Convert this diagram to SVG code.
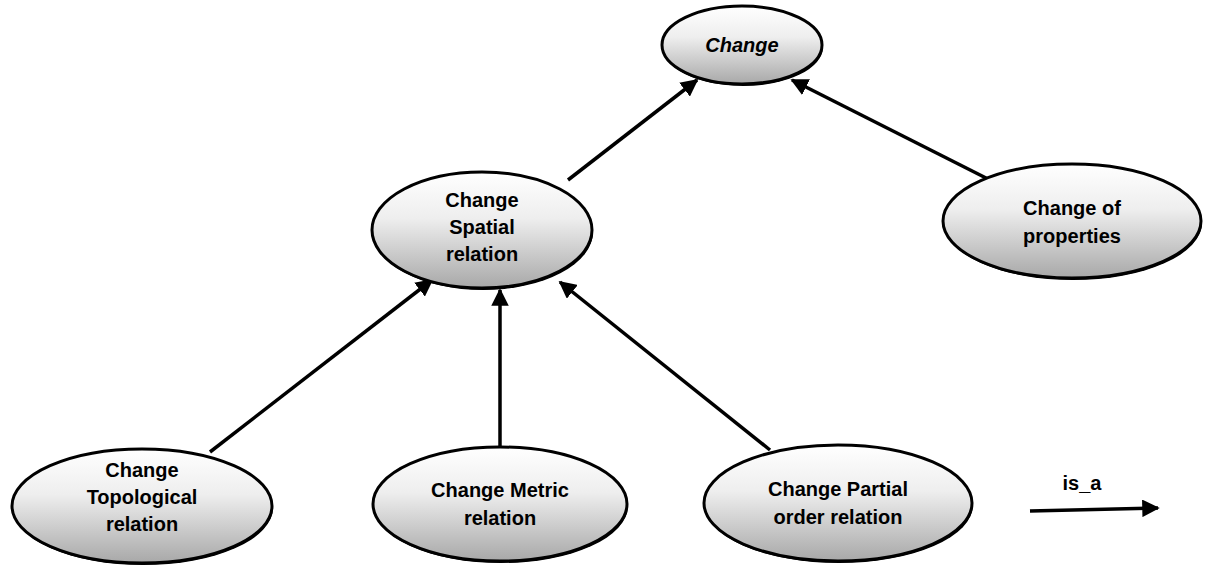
<svg xmlns="http://www.w3.org/2000/svg" width="1206" height="568" viewBox="0 0 1206 568">
<style>
.node ellipse{fill:url(#g);stroke:#000;stroke-width:3}
.node .sh{fill:#000;stroke:none}
text{font-family:"Liberation Sans",Arial,sans-serif;font-weight:bold;font-size:20px;fill:#000;text-anchor:middle}
.conn line{stroke:#000;stroke-width:3.5;marker-end:url(#ah)}
</style>
<defs>
<linearGradient id="g" x1="0" y1="0" x2="0" y2="1">
<stop offset="0" stop-color="#ffffff"/>
<stop offset="0.4" stop-color="#eeeeee"/>
<stop offset="1" stop-color="#a8a8a8"/>
</linearGradient>
<marker id="ah" viewBox="0 0 10 10" refX="9" refY="5" markerWidth="5" markerHeight="5" orient="auto" markerUnits="strokeWidth">
<path d="M0,0 L10,5 L0,10 z" fill="#000"/>
</marker>
</defs>
<rect width="1206" height="568" fill="#fff"/>
<g class="conn">
<line x1="568" y1="180" x2="697" y2="80"/>
<line x1="990" y1="180" x2="792" y2="80"/>
<line x1="210" y1="452" x2="432" y2="280"/>
<line x1="500" y1="446" x2="500" y2="290"/>
<line x1="770" y1="450" x2="560" y2="282"/>
<line x1="1030" y1="511" x2="1158" y2="508"/>
</g>
<g id="change" class="node"><ellipse class="sh" cx="743" cy="47" rx="80" ry="39"/><ellipse cx="742" cy="45" rx="80" ry="39"/><text x="742" y="52" font-style="italic">Change</text></g>
<g id="spatial" class="node"><ellipse class="sh" cx="483" cy="232" rx="110" ry="58"/><ellipse cx="482" cy="230" rx="110" ry="58"/><text x="482" y="207">Change</text><text x="482" y="234">Spatial</text><text x="482" y="261">relation</text></g>
<g id="properties" class="node"><ellipse class="sh" cx="1073" cy="223" rx="129" ry="57"/><ellipse cx="1072" cy="221" rx="129" ry="57"/><text x="1072" y="215">Change of</text><text x="1072" y="243">properties</text></g>
<g id="topological" class="node"><ellipse class="sh" cx="143" cy="508" rx="130" ry="57"/><ellipse cx="142" cy="506" rx="130" ry="57"/><text x="142" y="477">Change</text><text x="142" y="504">Topological</text><text x="142" y="531">relation</text></g>
<g id="metric" class="node"><ellipse class="sh" cx="501" cy="506" rx="127" ry="57"/><ellipse cx="500" cy="504" rx="127" ry="57"/><text x="500" y="497">Change Metric</text><text x="500" y="525">relation</text></g>
<g id="partial" class="node"><ellipse class="sh" cx="839" cy="505" rx="134" ry="58"/><ellipse cx="838" cy="503" rx="134" ry="58"/><text x="838" y="496">Change Partial</text><text x="838" y="524">order relation</text></g>
<g id="legend"><text x="1082" y="490" font-size="17">is_a</text></g>
</svg>
